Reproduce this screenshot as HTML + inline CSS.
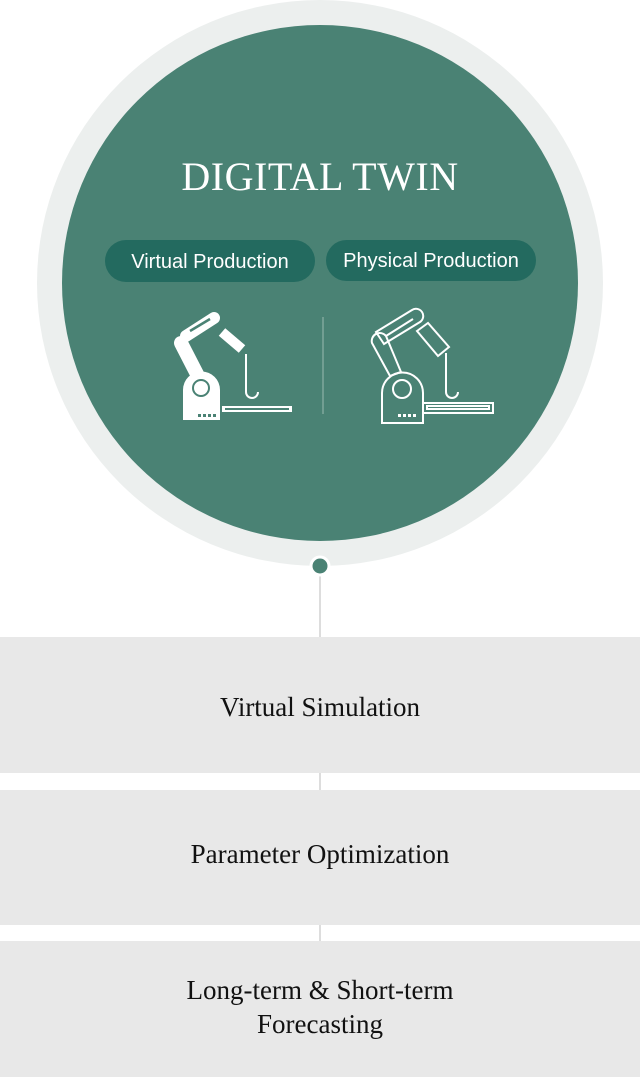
<!DOCTYPE html>
<html><head><meta charset="utf-8"><style>
html,body{margin:0;padding:0;background:#fff;}
body{width:640px;height:1077px;overflow:hidden;}
</style></head><body>
<svg width="640" height="1077" viewBox="0 0 640 1077" xmlns="http://www.w3.org/2000/svg">
<circle cx="320" cy="283" r="283" fill="#ecefee"/>
<circle cx="320" cy="283" r="258" fill="#4a8274"/>
<text x="320" y="190" text-anchor="middle" font-family="Liberation Serif, serif" font-size="40" letter-spacing="0.5" fill="#fff">DIGITAL TWIN</text>
<rect x="105" y="240" width="210" height="42" rx="21" fill="#236a5f"/>
<rect x="326" y="240" width="210" height="41" rx="20.5" fill="#236a5f"/>
<text x="210" y="268" text-anchor="middle" font-family="Liberation Sans, sans-serif" font-size="20" fill="#fff">Virtual Production</text>
<text x="431" y="267" text-anchor="middle" font-family="Liberation Sans, sans-serif" font-size="20" fill="#fff">Physical Production</text>
<line x1="323" y1="317" x2="323" y2="414" stroke="#7fa89d" stroke-width="1.5"/>
<g fill="#fff" stroke="none">
<path d="M183 420 V390 A18.5 18.5 0 0 1 220 390 V420 Z"/>
<line x1="181" y1="343" x2="199" y2="378" stroke="#fff" stroke-width="14" stroke-linecap="round"/>
<line x1="186" y1="336" x2="214" y2="318" stroke="#fff" stroke-width="12" stroke-linecap="round"/>
<line x1="222" y1="332" x2="242" y2="349" stroke="#fff" stroke-width="10"/>
<rect x="222" y="406" width="70" height="6"/>
</g>
<circle cx="201" cy="388" r="8" fill="none" stroke="#4a8274" stroke-width="2"/>
<line x1="190" y1="331" x2="210" y2="319" stroke="#4a8274" stroke-width="2.5"/>
<g fill="#4a8274"><rect x="198" y="414" width="3" height="3"/><rect x="203" y="414" width="3" height="3"/><rect x="208" y="414" width="3" height="3"/><rect x="213" y="414" width="3" height="3"/></g>
<rect x="225" y="408" width="64" height="2" fill="#4a8274"/>
<path d="M246 354 V392 A6 6 0 0 0 258 392" fill="none" stroke="#fff" stroke-width="2"/>
<g fill="none" stroke="#fff" stroke-width="2">
<path d="M382 423 V393 A20.5 20.5 0 0 1 423 393 V423 Z"/>
<circle cx="402" cy="389" r="9"/>
<path d="M372 343 A8 8 0 0 1 386 336 L401 372 L390 376 Z"/>
<path d="M376 332 L412 310 A7 7 0 0 1 420 322 L384 344 Z"/>
<path d="M386 336 L413 319"/>
<path d="M417 331 L428 323 L449 347 L438 356 Z"/>
<path d="M446 353 V392 A6 6 0 0 0 458 392"/>
<rect x="423" y="403" width="70" height="10"/>
<rect x="427" y="406" width="62" height="3"/>
</g>
<g fill="#fff"><rect x="398" y="414" width="3" height="3"/><rect x="403" y="414" width="3" height="3"/><rect x="408" y="414" width="3" height="3"/><rect x="413" y="414" width="3" height="3"/></g>
<line x1="320" y1="574" x2="320" y2="637" stroke="#ddd" stroke-width="2"/>
<circle cx="320" cy="566" r="9" fill="#4a8274" stroke="#fff" stroke-width="3"/>
<rect x="0" y="637" width="640" height="136" fill="#e8e8e8"/>
<line x1="320" y1="773" x2="320" y2="790" stroke="#ddd" stroke-width="2"/>
<rect x="0" y="790" width="640" height="135" fill="#e8e8e8"/>
<line x1="320" y1="925" x2="320" y2="941" stroke="#ddd" stroke-width="2"/>
<rect x="0" y="941" width="640" height="136" fill="#e8e8e8"/>
<g font-family="Liberation Serif, serif" font-size="27" fill="#111" text-anchor="middle">
<text x="320" y="716">Virtual Simulation</text>
<text x="320" y="863">Parameter Optimization</text>
<text x="320" y="999">Long-term &amp; Short-term</text>
<text x="320" y="1033">Forecasting</text>
</g>
</svg>
</body></html>
